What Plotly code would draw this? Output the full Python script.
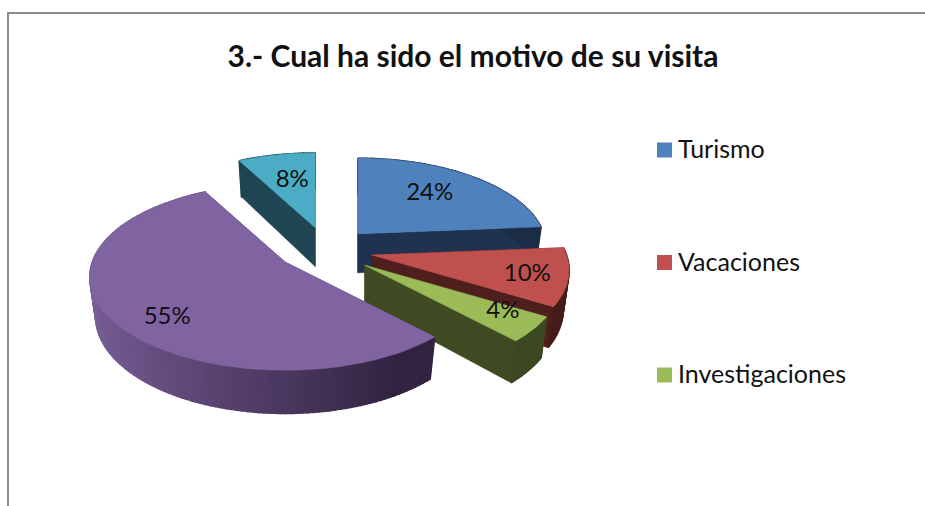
import numpy as np
import plotly.graph_objects as go

title = "3.- Cual ha sido el motivo de su visita"
categories = ["Turismo", "Vacaciones", "Investigaciones", "Otros", "Otros 2"]
values = [23.9, 10.0, 4.4, 54.6, 7.9]
legend_names = ["Turismo", "Vacaciones", "Investigaciones"]

top_colors = ["#4F81BD", "#C0504D", "#9BBB59", "#8064A2", "#4BACC6"]
side_colors = ["#1F324F", "#4F1F1D", "#3F4B22", "#5A4572", "#1F4652"]
wall_light = [(35, 55, 85), (95, 40, 38), (70, 85, 40), (122, 95, 152), (30, 70, 82)]
wall_dark = [(28, 45, 70), (70, 28, 26), (60, 72, 33), (50, 36, 65), (30, 70, 82)]
label_frac_x = [0.636, 0.79, 0.82, 0.683, 0.59]
label_frac_y = [0.74, 0.77, 0.69, 0.9, 0.68]
explode_scale_x = [1, 1, 1.06, 1.07, 0.95]
explode_scale_y = [1, 1, 1.1, 0.94, 1.06]
radius_scale = [0.975, 1.02, 1.02, 1.01, 0.96]
draw_order = [4, 0, 1, 2, 3]

# pie geometry in page pixels
base_x, base_y = 326, 250
explode_x, explode_y = 47, 22
rad_x, rad_y = 191, 90
persp = 0.16
depth = 39
depth_shrink = 0.97


def project(theta, cx, cy, scale=1, low=False):
    u = np.sin(theta)
    v = -np.cos(theta)
    w = 1 - persp * v
    x = rad_x * scale * u / w
    y = rad_y * scale * v / w
    if low:
        return cx + x * depth_shrink, cy + y * depth_shrink + depth / w
    return cx + x, cy + y


def poly(xs, ys, color, width=0.6):
    return go.Scatter(x=list(xs), y=list(ys), mode="lines", fill="toself",
                      fillcolor=color, line=dict(color=color, width=width),
                      hoverinfo="skip", showlegend=False)


fig = go.Figure()

total = sum(values)
edges = np.radians(np.cumsum([0] + values) * 360 / total)
text_x, text_y = {}, {}

for i in draw_order:
    a0, a1 = edges[i], edges[i + 1]
    mid = (a0 + a1) / 2
    cx = base_x + explode_x * explode_scale_x[i] * np.sin(mid)
    cy = base_y + explode_y * explode_scale_y[i] * -np.cos(mid)
    scale = radius_scale[i]

    # the two cut faces
    for a in (a0, a1):
        tx, ty = project(a, cx, cy, scale)
        bx, by = project(a, cx, cy, scale, low=True)
        fig.add_trace(poly([cx, tx, bx, cx, cx], [cy, ty, by, cy + depth, cy], side_colors[i]))

    # outer wall, strips so the shade can change along the arc
    steps = np.linspace(a0, a1, max(int((a1 - a0) * 40), 2) + 1)
    for s0, s1 in zip(steps[:-1], steps[1:]):
        tx, ty = project(np.array([s0, s1]), cx, cy, scale)
        bx, by = project(np.array([s1, s0]), cx, cy, scale, low=True)
        t = min(1, (np.sin((s0 + s1) / 2) + 1) / 1.5)
        rgb = [int(l + (d - l) * t) for l, d in zip(wall_light[i], wall_dark[i])]
        fig.add_trace(poly([*tx, *bx, tx[0]], [*ty, *by, ty[0]], "rgb(%d,%d,%d)" % tuple(rgb), width=1.5))

    # top
    arc = np.linspace(a0, a1, 60)
    tx, ty = project(arc, cx, cy, scale)
    fig.add_trace(poly([cx, *tx, cx], [cy, *ty, cy], top_colors[i]))

    rx, ry = project(mid, cx, cy, scale)
    text_x[i] = cx + (rx - cx) * label_frac_x[i]
    text_y[i] = cy + (ry - cy) * label_frac_y[i]

order = list(range(len(values)))
fig.add_trace(go.Scatter(
    x=[text_x[i] for i in order],
    y=[text_y[i] + 3 for i in order],
    text=["%.0f%%" % values[i] for i in order],
    mode="text",
    textfont=dict(family="Lato", size=24, color="#111111"),
    hoverinfo="skip",
    showlegend=False,
))

# legend
legend_y = [150 + 112.5 * i for i in range(len(legend_names))]
fig.add_trace(go.Scatter(
    x=[664.5] * len(legend_names),
    y=legend_y,
    mode="markers",
    marker=dict(symbol="square", size=15, color=top_colors[:len(legend_names)]),
    hoverinfo="skip",
    showlegend=False,
))
fig.add_trace(go.Scatter(
    x=[678] * len(legend_names),
    y=[y + 2 for y in legend_y],
    text=legend_names,
    mode="text",
    textposition="middle right",
    textfont=dict(family="Lato", size=25, color="#111111"),
    hoverinfo="skip",
    showlegend=False,
))

fig.update_layout(
    width=925,
    height=506,
    margin=dict(l=0, r=0, t=0, b=0),
    paper_bgcolor="white",
    plot_bgcolor="white",
    title=dict(text="<b>" + title + "</b>", x=473 / 925, y=1 - 56 / 506,
               xanchor="center", yanchor="middle",
               font=dict(family="Lato", size=30, color="#111111")),
    xaxis=dict(range=[0, 925], visible=False, fixedrange=True),
    yaxis=dict(range=[506, 0], visible=False, fixedrange=True),
    shapes=[dict(type="path", path="M 8 506 L 8 13 L 925 13",
                 line=dict(color="#8C8C8C", width=2))],
)

fig.write_html("out.html", post_script="document.body.style.margin='0';", config=dict(displayModeBar=False))
